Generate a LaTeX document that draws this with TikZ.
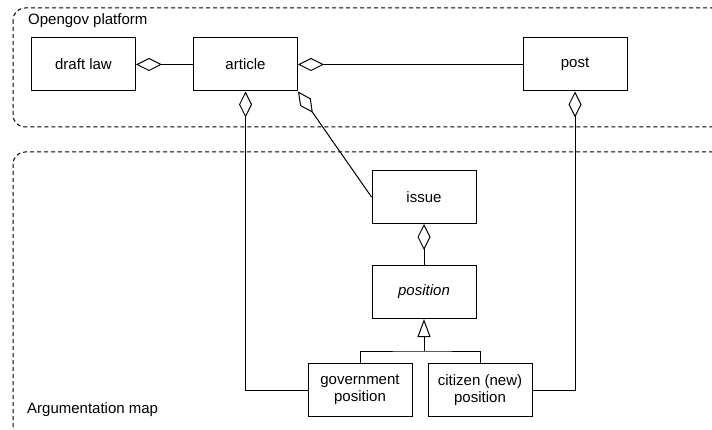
\documentclass[tikz,border=0pt]{standalone}
\usepackage{fontspec}
\setmainfont{Liberation Sans}
\usetikzlibrary{arrows.meta}
\begin{document}
\begin{tikzpicture}[x=1pt,y=-1pt,
  cls/.style={draw, line width=1pt, minimum width=104pt, minimum height=53pt, inner sep=0pt, align=center, font=\fontsize{15}{17.3}\selectfont},
  agg/.style={-{Diamond[open,length=26pt,width=13pt]}, line width=1pt},
  gen/.style={-{Triangle[open,length=18pt,width=13pt]}, line width=1pt},
  cont/.style={draw, line width=1pt, dash pattern=on 4pt off 3pt, rounded corners=12pt},
  lbl/.style={anchor=base west, font=\fontsize{15}{17}\selectfont, inner sep=0pt}]
\useasboundingbox (0,0) rectangle (712,430);
\clip (0,0) rectangle (712,430);
\draw[cont] (13,8) rectangle (724,127);
\draw[cont] (13,152) rectangle (724,442);
\node[lbl] (lplat) at (28,25) {Opengov platform};
\node[lbl] (lmap) at (27,413) {Argumentation map};
\node[cls] (draftlaw) at (83.5,64.5) {draft law};
\node[cls] (article) at (245.5,64.5) {article};
\node[cls] (post) at (575,64.5) {post};
\node[cls] (issue) at (424,197) {issue};
\node[cls] (position) at (424,292) {\itshape position};
\node[cls] (gov) at (360,390) {government\\position};
\node[cls] (cit) at (480,390) {citizen (new)\\position};
\coordinate (j) at (424,351);
\draw[agg] (article.west) -- (draftlaw.east);
\draw[agg] (post.west) -- (article.east);
\draw[agg] (issue.west) -- (article.south east);
\draw[agg] (gov.west) -| (article.south);
\draw[agg] (cit.east) -| (post.south);
\draw[agg] (position.north) -- (issue.south);
\draw[gen] (j) -- (position.south);
\draw[line width=1pt] (gov.north) |- (j) -| (cit.north);
\end{tikzpicture}
\end{document}
